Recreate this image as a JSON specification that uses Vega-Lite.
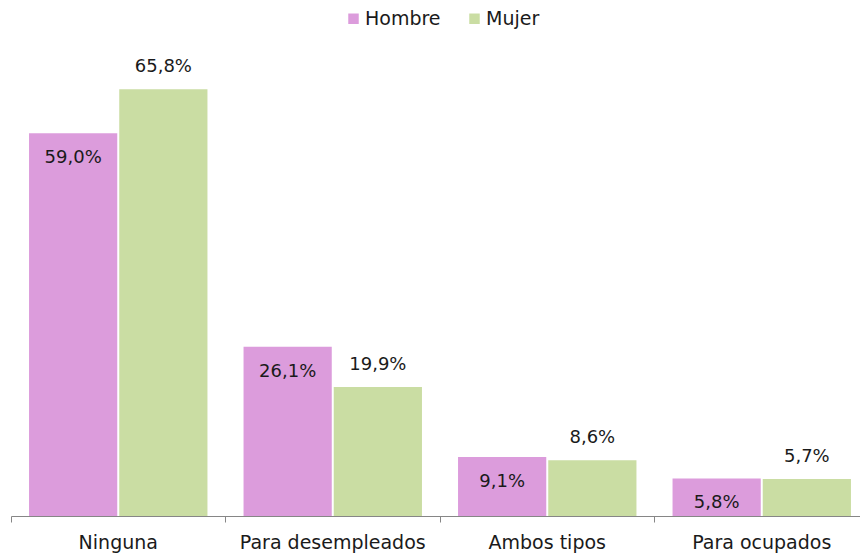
{
  "$schema": "https://vega.github.io/schema/vega-lite/v6.json",
  "autosize": {"type": "none"},
  "width": 849,
  "height": 454,
  "padding": {"left": 11, "top": 62, "right": 0, "bottom": 41},
  "background": "white",
  "config": {
    "view": {"stroke": null},
    "font": "DejaVu Sans",
    "locale": {"number": {"decimal": ",", "thousands": ".", "grouping": [3], "currency": ["", " €"]}}
  },
  "data": {
    "values": [
      {"cat": "Ninguna", "sexo": "Hombre", "v": 0.590},
      {"cat": "Ninguna", "sexo": "Mujer", "v": 0.658},
      {"cat": "Para desempleados", "sexo": "Hombre", "v": 0.261},
      {"cat": "Para desempleados", "sexo": "Mujer", "v": 0.199},
      {"cat": "Ambos tipos", "sexo": "Hombre", "v": 0.091},
      {"cat": "Ambos tipos", "sexo": "Mujer", "v": 0.086},
      {"cat": "Para ocupados", "sexo": "Hombre", "v": 0.058},
      {"cat": "Para ocupados", "sexo": "Mujer", "v": 0.057}
    ]
  },
  "encoding": {
    "x": {
      "field": "cat", "type": "nominal", "sort": null,
      "scale": {"paddingInner": 0, "paddingOuter": 0, "range": [0, 858]},
      "axis": {
        "title": null, "labelAngle": 0, "bandPosition": 0,
        "domainColor": "#868686", "tickColor": "#868686", "tickSize": 6,
        "labelFontSize": 19, "labelColor": "#1a1a1a", "labelPadding": 11,
        "labelFont": "DejaVu Sans", "labelBaseline": "top", "labelBound": false,
        "labelOverlap": false, "labelLimit": 0
      }
    },
    "xOffset": {"field": "sexo", "type": "nominal", "scale": {"paddingInner": 0.022, "paddingOuter": 0.2}},
    "y": {"field": "v", "type": "quantitative", "scale": {"domain": [0, 0.7]}, "axis": null}
  },
  "layer": [
    {
      "mark": {"type": "bar"},
      "encoding": {
        "color": {
          "field": "sexo", "type": "nominal",
          "scale": {"domain": ["Hombre", "Mujer"], "range": ["#dc9cdc", "#cadda3"]},
          "legend": {
            "title": null, "orient": "none", "direction": "horizontal",
            "legendX": 333, "legendY": -53,
            "symbolType": "square", "symbolSize": 110, "symbolStrokeWidth": 0,
            "labelFontSize": 19, "labelColor": "#1a1a1a", "labelOffset": 2,
            "columnPadding": 24, "labelFont": "DejaVu Sans"
          }
        }
      }
    },
    {
      "transform": [{"filter": "datum.sexo == 'Hombre'"}],
      "mark": {"type": "text", "dy": 25, "baseline": "middle", "fontSize": 18, "color": "#1a1a1a"},
      "encoding": {"text": {"field": "v", "type": "quantitative", "format": ".1%"}}
    },
    {
      "transform": [{"filter": "datum.sexo == 'Mujer'"}],
      "mark": {"type": "text", "dy": -22, "baseline": "middle", "fontSize": 18, "color": "#1a1a1a"},
      "encoding": {"text": {"field": "v", "type": "quantitative", "format": ".1%"}}
    }
  ]
}
